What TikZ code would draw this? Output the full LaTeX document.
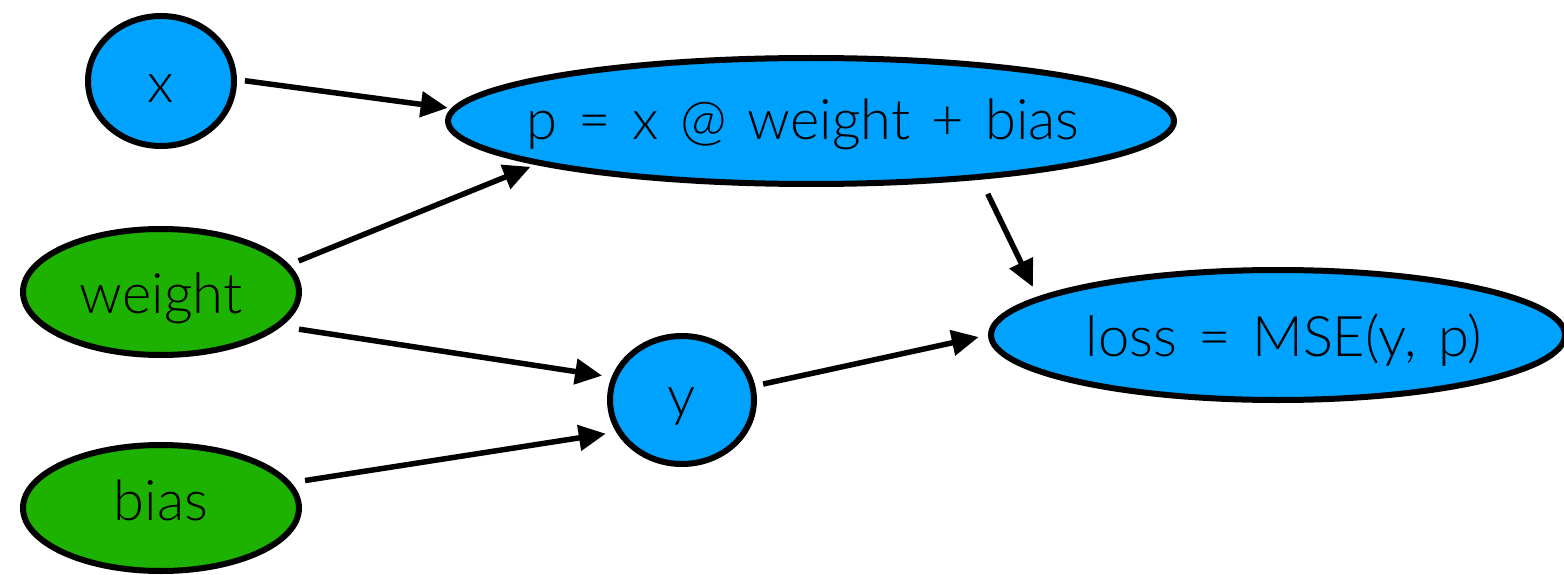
\documentclass[tikz,border=0pt]{standalone}
\usepackage{fontspec}
\setmainfont{Lato Light}[WordSpace=1.4]
\usetikzlibrary{shapes.geometric,arrows.meta}
\definecolor{nodeblue}{RGB}{0,162,255}
\definecolor{nodegreen}{RGB}{29,177,0}
% #1 = baseline drop, #2 = horizontal offset, #3 = text
\newcommand{\lbl}[3]{\raisebox{-#1pt}[0pt][0pt]{\makebox[0pt]{\kern#2pt\kern#2pt#3}}}
\begin{document}
\begin{tikzpicture}[x=1pt,y=-1pt,
  blob/.style={ellipse, draw=black, line width=6pt, inner sep=0pt,
    font=\fontsize{56}{60}\selectfont},
  bluenode/.style={blob, fill=nodeblue},
  greennode/.style={blob, fill=nodegreen},
  arr/.style={line width=5.5pt, -{Triangle[length=27pt,width=25pt]}}]
\useasboundingbox (0,0) rectangle (1564,575);
\node[bluenode, minimum width=146pt, minimum height=130pt] (x) at (161,81) {\lbl{22}{0}{x}};
\node[bluenode, minimum width=726pt, minimum height=126pt] (p) at (811,121) {\lbl{19}{-8}{p = x @ weight + bias}};
\node[greennode, minimum width=276pt, minimum height=126pt] (weight) at (161,292) {\lbl{21}{0}{weight}};
\node[greennode, minimum width=276pt, minimum height=126pt] (bias) at (161,508) {\lbl{12}{0}{bias}};
\node[bluenode, minimum width=144pt, minimum height=128pt] (y) at (682,400) {\lbl{15}{0}{y}};
\node[bluenode, minimum width=574pt, minimum height=130pt] (loss) at (1278,335) {\lbl{21}{6}{loss = MSE(y, p)}};
\draw[arr, shorten <=8pt, shorten >=4pt] (x.1.7) -- (p.178.2);
\draw[arr, shorten <=10pt, shorten >=6pt] (weight.12.5) -- (p.-171);
\draw[arr, shorten <=18pt, shorten >=9.5pt] (weight.-16.5) -- (y.162.2);
\draw[arr, shorten <=14pt, shorten >=10.5pt] (bias.11.1) -- (y.-154.7);
\draw[arr, shorten <=8pt, shorten >=9.5pt] (y.11.9) -- (loss.180.8);
\draw[arr, shorten <=16pt, shorten >=11pt] (p.-19.5) -- (loss.171);
\end{tikzpicture}
\end{document}
